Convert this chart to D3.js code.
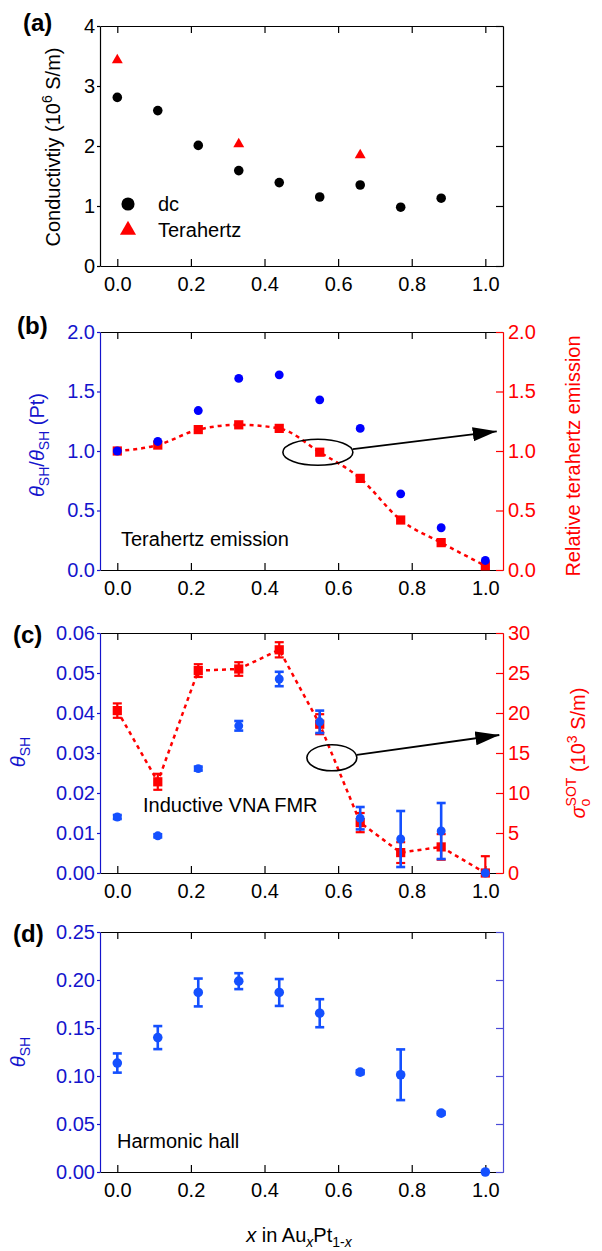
<!DOCTYPE html>
<html>
<head>
<meta charset="utf-8">
<script src="https://cdn.jsdelivr.net/npm/d3@7"></script>
<style>
  body { margin: 0; background: #fff; }
  svg { display: block; }
  text { font-family: "Liberation Sans", Arial, sans-serif; }
</style>
</head>
<body>
<script>
// composition x of AuxPt1-x
const xAll = [0, 0.11, 0.22, 0.33, 0.44, 0.55, 0.66, 0.77, 0.88, 1.0];
const xTicks = [0, 0.2, 0.4, 0.6, 0.8, 1.0];

// (a) conductivity, 10^6 S/m
const dcX = [0, 0.11, 0.22, 0.33, 0.44, 0.55, 0.66, 0.77, 0.88];
const dcCond = [2.81, 2.59, 2.01, 1.59, 1.39, 1.15, 1.35, 0.98, 1.13];
const thzX = [0, 0.33, 0.66];
const thzCond = [3.43, 2.03, 1.85];

// (b) terahertz emission
const shRatio = [1.00, 1.08, 1.34, 1.61, 1.64, 1.43, 1.19, 0.64, 0.355, 0.08];
const thzEmission = [1.00, 1.05, 1.18, 1.22, 1.19, 0.99, 0.77, 0.42, 0.23, 0.035];

// (c) inductive VNA FMR
const fmrTheta = [0.0140, 0.0093, 0.0261, 0.0368, 0.0485, 0.0378, 0.0137, 0.0085, 0.0105, 0];
const fmrThetaErr = [0.0005, 0.0004, 0.0005, 0.0012, 0.0018, 0.0028, 0.0028, 0.007, 0.007, 0];
const sigmaSOT = [20.3, 11.4, 25.3, 25.5, 27.9, 18.6, 6.3, 2.55, 3.26, 0];
const sigmaErr = [0.9, 1.0, 0.8, 0.85, 0.95, 1.25, 1.2, 1.3, 1.6, 2.1];

// (d) harmonic hall
const hallTheta = [0.1135, 0.140, 0.187, 0.1988, 0.187, 0.1654, 0.104, 0.1013, 0.0613, 0];
const hallErr = [0.010, 0.012, 0.0145, 0.0083, 0.014, 0.0146, 0.002, 0.0264, 0.0015, 0];

const W = 602, H = 1251;
const BLUE_TXT = '#1414cc', BLUE = '#0000ff', BLUE2 = '#1450ff', RED = '#ff0000';
const FONT = 20;

const svg = d3.select('body').append('svg')
  .attr('width', W).attr('height', H);

svg.append('defs').append('marker')
  .attr('id', 'head')
  .attr('markerUnits', 'userSpaceOnUse')
  .attr('markerWidth', 24).attr('markerHeight', 14)
  .attr('refX', 24).attr('refY', 7)
  .attr('orient', 'auto')
  .append('path')
  .attr('d', 'M0,0L24,7L0,14Z')
  .attr('fill', '#000');

const x = d3.scaleLinear().domain([-0.047, 1.048]).range([100, 503]);

function styleAxis(sel, color) {
  sel.attr('color', color)
    .attr('font-size', FONT)
    .attr('font-family', '"Liberation Sans", Arial, sans-serif');
  sel.selectAll('path, line').attr('stroke-width', 1.2);
}

function frame(top, bottom, left, right) {
  const y = d3.scaleLinear().domain(left.domain).range([bottom, top]);
  svg.append('g')
    .attr('transform', `translate(0,${bottom})`)
    .call(d3.axisBottom(x).tickValues(xTicks).tickFormat(d3.format('.1f'))
      .tickSizeInner(-7).tickSizeOuter(0).tickPadding(11))
    .call(styleAxis, '#000');
  svg.append('g')
    .attr('transform', `translate(0,${top})`)
    .call(d3.axisTop(x).tickValues(xTicks).tickFormat('')
      .tickSizeInner(-7).tickSizeOuter(0))
    .call(styleAxis, '#000');
  svg.append('g')
    .attr('transform', `translate(100,0)`)
    .call(d3.axisLeft(y).tickValues(left.ticks).tickFormat(d3.format(left.fmt))
      .tickSizeInner(3).tickSizeOuter(0).tickPadding(2))
    .call(styleAxis, left.color);
  let y2 = y;
  if (right) {
    y2 = d3.scaleLinear().domain(right.domain).range([bottom, top]);
    svg.append('g')
      .attr('transform', `translate(503,0)`)
      .call(d3.axisRight(y2).tickValues(right.ticks)
        .tickFormat(right.fmt ? d3.format(right.fmt) : '')
        .tickSizeInner(-7).tickSizeOuter(0).tickPadding(5))
      .call(styleAxis, right.color);
  } else {
    svg.append('g')
      .attr('transform', `translate(503,0)`)
      .call(d3.axisRight(y).tickValues(left.ticks).tickFormat('')
        .tickSizeInner(-7).tickSizeOuter(0))
      .call(styleAxis, '#000');
  }
  return [y, y2];
}

function panelLabel(txt, px, py) {
  svg.append('text').attr('x', px).attr('y', py)
    .attr('font-size', 24).attr('font-weight', 'bold').text(txt);
}

function note(txt, px, py) {
  svg.append('text').attr('x', px).attr('y', py)
    .attr('font-size', FONT).attr('fill', '#000').text(txt);
}

function vlabel(px, py, color, parts) {
  const t = svg.append('text')
    .attr('transform', `translate(${px},${py}) rotate(-90)`)
    .attr('text-anchor', 'middle')
    .attr('font-size', FONT)
    .attr('fill', color);
  parts.forEach(p => {
    const s = t.append('tspan').text(p.t);
    if (p.it) s.attr('font-style', 'italic');
    if (p.fs) s.attr('font-size', p.fs);
    if (p.dy) s.attr('dy', p.dy);
    if (p.dx) s.attr('dx', p.dx);
  });
  return t;
}

function errorBars(g, xs, ys, errs, yScale, color, width, cap) {
  const rows = xs.map((d, i) => ({ x: d, y: ys[i], e: errs[i] })).filter(d => d.e > 0);
  const y0 = yScale.domain()[0];
  const lo = d => yScale(Math.max(y0, d.y - d.e));
  const hi = d => yScale(d.y + d.e);
  g.selectAll(null).data(rows).join('line')
    .attr('x1', d => x(d.x)).attr('x2', d => x(d.x))
    .attr('y1', lo).attr('y2', hi)
    .attr('stroke', color).attr('stroke-width', width);
  g.selectAll(null).data(rows).join('line')
    .attr('x1', d => x(d.x) - cap).attr('x2', d => x(d.x) + cap)
    .attr('y1', hi).attr('y2', hi)
    .attr('stroke', color).attr('stroke-width', width);
  g.selectAll(null).data(rows.filter(d => d.y - d.e > y0)).join('line')
    .attr('x1', d => x(d.x) - cap).attr('x2', d => x(d.x) + cap)
    .attr('y1', lo).attr('y2', lo)
    .attr('stroke', color).attr('stroke-width', width);
}

function symbols(g, xs, ys, yScale, type, size, color) {
  g.selectAll(null).data(xs.map((d, i) => [d, ys[i]])).join('path')
    .attr('transform', d => `translate(${x(d[0])},${yScale(d[1])})`)
    .attr('d', d3.symbol().type(type).size(size)())
    .attr('fill', color);
}

function callout(cx, cy, rx, ry, ex, ey) {
  svg.append('ellipse')
    .attr('cx', cx).attr('cy', cy).attr('rx', rx).attr('ry', ry)
    .attr('fill', 'none').attr('stroke', '#000').attr('stroke-width', 1.6);
  svg.append('line')
    .attr('x1', cx + rx).attr('y1', cy - 3)
    .attr('x2', ex).attr('y2', ey)
    .attr('stroke', '#000').attr('stroke-width', 1.8)
    .attr('marker-end', 'url(#head)');
}

// ---------- (a) ----------
{
  const [y] = frame(26, 266, {
    domain: [0, 4], ticks: [0, 1, 2, 3, 4], fmt: 'd', color: '#000'
  });
  const g = svg.append('g');
  symbols(g, dcX, dcCond, y, d3.symbolCircle, 72, '#000');
  symbols(g, thzX, thzCond, y, d3.symbolTriangle, 52, RED);

  // legend
  g.append('path').attr('transform', 'translate(128,204)')
    .attr('d', d3.symbol().type(d3.symbolCircle).size(135)()).attr('fill', '#000');
  g.append('path').attr('transform', 'translate(128,230)')
    .attr('d', d3.symbol().type(d3.symbolTriangle).size(112)()).attr('fill', RED);
  note('dc', 158, 211);
  note('Terahertz', 158, 237);

  panelLabel('(a)', 23, 31);
  vlabel(60, 147, '#000', [
    { t: 'Conductivtiy (10' },
    { t: '6', fs: 14, dy: -8 },
    { t: ' S/m)', dy: 8 }
  ]);
}

// ---------- (b) ----------
{
  const [yL, yR] = frame(332, 570,
    { domain: [0, 2], ticks: [0, 0.5, 1, 1.5, 2], fmt: '.1f', color: BLUE_TXT },
    { domain: [0, 2], ticks: [0, 0.5, 1, 1.5, 2], fmt: '.1f', color: RED });
  const g = svg.append('g');
  g.append('path')
    .datum(xAll.map((d, i) => [d, thzEmission[i]]))
    .attr('d', d3.line().x(d => x(d[0])).y(d => yR(d[1])).curve(d3.curveMonotoneX))
    .attr('fill', 'none').attr('stroke', RED)
    .attr('stroke-width', 2.5).attr('stroke-dasharray', '4,4');
  symbols(g, xAll, thzEmission, yR, d3.symbolSquare, 85, RED);
  symbols(g, xAll, shRatio, yL, d3.symbolCircle, 62, BLUE);

  callout(x(0.545), yR(0.99), 35, 13, x(1.031), yR(1.165));
  note('Terahertz emission', 121, 546);
  panelLabel('(b)', 17, 334);

  vlabel(44, 445, BLUE_TXT, [
    { t: 'θ', it: true },
    { t: 'SH', fs: 14, dy: 5 },
    { t: '/', dy: -5 },
    { t: 'θ', it: true },
    { t: 'SH', fs: 14, dy: 5 },
    { t: ' (Pt)', dy: -5 }
  ]);
  vlabel(580, 456, RED, [{ t: 'Relative terahertz emission' }]);
}

// ---------- (c) ----------
{
  const [yL, yR] = frame(633, 873,
    { domain: [0, 0.06], ticks: [0, 0.01, 0.02, 0.03, 0.04, 0.05, 0.06], fmt: '.2f', color: BLUE_TXT },
    { domain: [0, 30], ticks: [0, 5, 10, 15, 20, 25, 30], fmt: 'd', color: RED });
  const g = svg.append('g');
  g.append('path')
    .datum(xAll.map((d, i) => [d, sigmaSOT[i]]))
    .attr('d', d3.line().x(d => x(d[0])).y(d => yR(d[1])))
    .attr('fill', 'none').attr('stroke', RED)
    .attr('stroke-width', 2.5).attr('stroke-dasharray', '4,4');
  errorBars(g, xAll, sigmaSOT, sigmaErr, yR, RED, 2.2, 4.5);
  symbols(g, xAll, sigmaSOT, yR, d3.symbolSquare, 85, RED);
  errorBars(g, xAll, fmrTheta, fmrThetaErr, yL, BLUE2, 2.6, 4.5);
  symbols(g, xAll, fmrTheta, yL, d3.symbolCircle, 62, BLUE2);

  callout(x(0.583), yR(14.4), 25, 13, x(1.038), yR(17.25));
  note('Inductive VNA FMR', 143, 812);
  panelLabel('(c)', 13, 643);

  vlabel(25, 752, BLUE_TXT, [
    { t: 'θ', it: true },
    { t: 'SH', fs: 14, dy: 5 }
  ]);
  vlabel(585, 753, RED, [
    { t: 'σ', it: true },
    { t: 'o', fs: 14, dy: 5 },
    { t: 'SOT', fs: 14, dx: -7.8, dy: -14 },
    { t: ' (10', dy: 9 },
    { t: '3', fs: 14, dy: -8 },
    { t: ' S/m)', dy: 8 }
  ]);
}

// ---------- (d) ----------
{
  const [yL] = frame(932, 1172,
    { domain: [0, 0.25], ticks: [0, 0.05, 0.1, 0.15, 0.2, 0.25], fmt: '.2f', color: BLUE_TXT },
    { domain: [0, 0.25], ticks: [0, 0.05, 0.1, 0.15, 0.2, 0.25], fmt: null, color: '#4a4ad8' });
  const g = svg.append('g');
  errorBars(g, xAll, hallTheta, hallErr, yL, BLUE2, 2.6, 4.5);
  symbols(g, xAll, hallTheta, yL, d3.symbolCircle, 72, BLUE2);

  note('Harmonic hall', 117, 1148);
  panelLabel('(d)', 13, 942);

  vlabel(25, 1052, BLUE_TXT, [
    { t: 'θ', it: true },
    { t: 'SH', fs: 14, dy: 5 }
  ]);
}

// shared x title
{
  const t = svg.append('text')
    .attr('x', 299).attr('y', 1242)
    .attr('text-anchor', 'middle')
    .attr('font-size', FONT);
  t.append('tspan').attr('font-style', 'italic').text('x');
  t.append('tspan').text(' in Au');
  t.append('tspan').attr('font-style', 'italic').attr('font-size', 14).attr('dy', 5).text('x');
  t.append('tspan').attr('dy', -5).text('Pt');
  t.append('tspan').attr('font-size', 14).attr('dy', 5).text('1-');
  t.append('tspan').attr('font-style', 'italic').attr('font-size', 14).text('x');
}
</script>
</body>
</html>
